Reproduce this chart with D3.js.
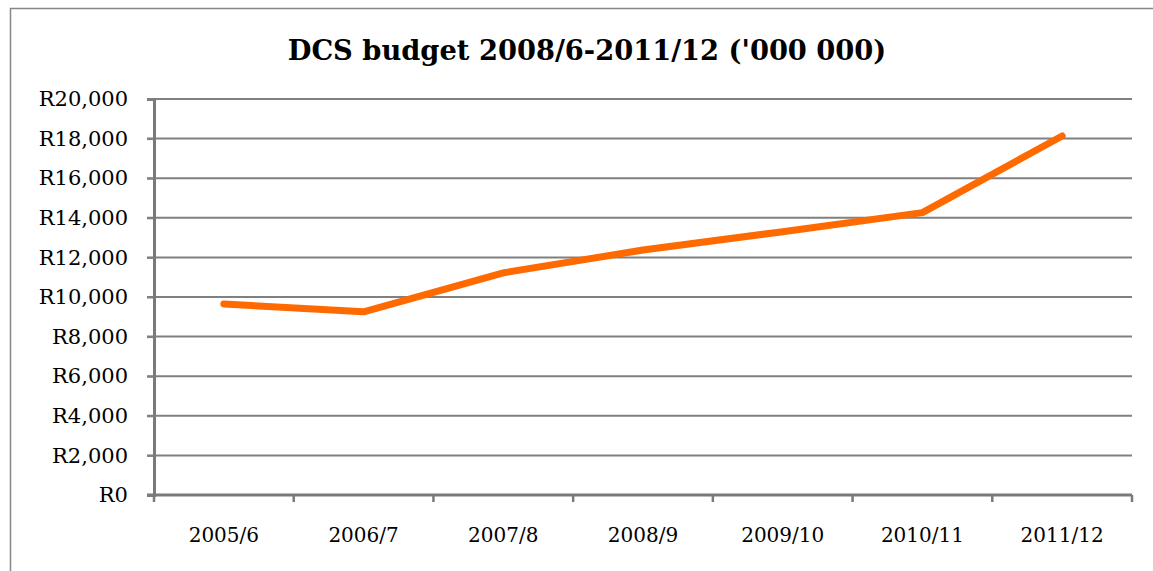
<!DOCTYPE html>
<html>
<head>
<meta charset="utf-8">
<script src="https://cdn.jsdelivr.net/npm/d3@7/dist/d3.min.js"></script>
<style>
  html, body { margin: 0; padding: 0; background: #fff; }
  svg { display: block; }
</style>
</head>
<body>
<svg id="chart" width="1153" height="571"></svg>
<script>
const categories = ["2005/6", "2006/7", "2007/8", "2008/9", "2009/10", "2010/11", "2011/12"];
const budget = [9650, 9250, 11220, 12370, 13300, 14260, 18130];
const yTicks = [0, 2000, 4000, 6000, 8000, 10000, 12000, 14000, 16000, 18000, 20000];
const title = "DCS budget 2008/6-2011/12 ('000 000)";

const svg = d3.select("#chart");
const W = 1153, H = 571;
const m = { left: 154, right: 1132, top: 99, bottom: 495 };
const font = "'DejaVu Serif', serif";

// outer border (left + top visible)
svg.append("rect")
  .attr("x", 10.5).attr("y", 8.5)
  .attr("width", W + 20).attr("height", H + 20)
  .attr("fill", "#fff").attr("stroke", "#868686").attr("stroke-width", 1.5);

svg.append("text")
  .attr("x", 587).attr("y", 60)
  .attr("text-anchor", "middle")
  .attr("font-family", font).attr("font-weight", "bold")
  .attr("font-size", 27.3).attr("fill", "#000")
  .text(title);

const x = d3.scaleBand().domain(categories).range([m.left, m.right]).paddingInner(0).paddingOuter(0);
const y = d3.scaleLinear().domain([0, 20000]).range([m.bottom, m.top]);

// gridlines
svg.append("g")
  .selectAll("line").data(yTicks.filter(d => d > 0)).join("line")
  .attr("x1", m.left - 7).attr("x2", m.right)
  .attr("y1", d => y(d)).attr("y2", d => y(d))
  .attr("stroke", "#808080").attr("stroke-width", 2);

// y axis
const yAxis = d3.axisLeft(y).tickValues(yTicks).tickSize(7).tickPadding(19)
  .tickFormat(d => "R" + d3.format(",")(d));
const gy = svg.append("g").attr("transform", `translate(${m.left},0)`).call(yAxis);
gy.select(".domain").attr("stroke", "#7a7a7a").attr("stroke-width", 3);
gy.selectAll(".tick line").attr("stroke", "#808080").attr("stroke-width", 2);
gy.selectAll(".tick text").attr("font-family", font).attr("font-size", 21).attr("fill", "#000");

// x axis
const xAxis = d3.axisBottom(x).tickSize(0).tickPadding(33);
const gx = svg.append("g").attr("transform", `translate(0,${m.bottom})`).call(xAxis);
gx.select(".domain").remove();
gx.append("line").attr("x1", m.left - 7).attr("x2", m.right).attr("y1", 0).attr("y2", 0)
  .attr("stroke", "#7a7a7a").attr("stroke-width", 3);
const edges = categories.map(c => x(c)).concat([x(categories[categories.length - 1]) + x.bandwidth()]);
gx.selectAll(".edge").data(edges).join("line").attr("class", "edge")
  .attr("x1", d => d).attr("x2", d => d).attr("y1", 0).attr("y2", 7)
  .attr("stroke", "#7a7a7a").attr("stroke-width", 2.5);
gx.selectAll(".tick text").attr("font-family", font).attr("font-size", 20).attr("fill", "#000");

// line
const line = d3.line().x((d, i) => x(categories[i]) + x.bandwidth() / 2).y(d => y(d));
svg.append("path").datum(budget)
  .attr("d", line)
  .attr("fill", "none").attr("stroke", "#FF6A00").attr("stroke-width", 7)
  .attr("stroke-linecap", "round").attr("stroke-linejoin", "round");
</script>
</body>
</html>
